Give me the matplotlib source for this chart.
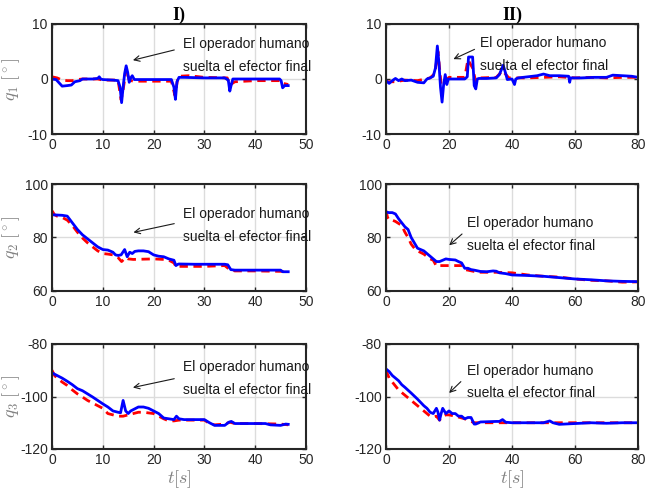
import numpy as np
import matplotlib
matplotlib.use('Agg')
import matplotlib.pyplot as plt

# --- data (time in s, angle in degrees) ---
# q1, experiment I
t_q1_I_ref = [0, 1, 2, 3, 4, 5, 6, 9, 10, 13, 13.6, 14, 14.6, 15.2, 16, 20, 23.5, 24.2, 24.7, 25, 27, 30,
              34.5, 35, 35.5, 36, 40, 45, 45.5, 46.5]
q1_I_ref = [0.4, 0.2, -0.2, -0.3, -0.3, -0.1, 0, 0, -0.2, -0.2, -3.8, -2, 1.8, -0.2, -0.4, -0.4, -0.4, -3, -0.2,
            0.5, 0.6, 0.3, 0.2, -1.2, -0.8, -0.5, -0.3, -0.3, -0.8, -1.0]
t_q1_I = [0, 0.8, 1.5, 2, 3, 3.8, 4.5, 5.5, 6, 8, 9, 9.3, 9.6, 10, 12, 13, 13.4, 13.7, 14.0, 14.3, 14.6, 14.9,
          15.2, 15.5, 15.8, 16.2, 17, 20, 23.5, 24.0, 24.3, 24.6, 25, 26, 30, 34, 34.7, 35.0, 35.3, 35.6, 36, 40,
          44.8, 45.1, 45.4, 45.8, 46.5]
q1_I = [0, -0.1, -0.8, -1.3, -1.2, -1.1, -0.5, -0.3, 0, 0, 0.1, 0.4, 0, -0.1, -0.2, -0.3, -1.5, -4.3, -1.5, 1,
        2.4, 1.2, -0.6, 0.2, 0.6, -0.1, -0.1, -0.1, -0.1, -1.5, -3.7, -0.5, 0.3, 0.3, 0.2, 0.2, -0.2, -2.2, -1, 0,
        0, 0, 0, -0.3, -1.6, -1.2, -1.2]

# q1, experiment II
t_q1_II_ref = [0, 3, 6, 10, 14, 15.5, 16.5, 17.5, 18.5, 20, 25, 26, 27.5, 28.5, 30, 35, 37, 39, 45, 50, 55,
               60, 65, 70, 75, 80]
q1_II_ref = [-0.5, -0.5, -0.2, -0.3, 0.2, 1, 5, -1, -0.5, 0.3, 0.3, 3.5, 2, -0.5, 0.2, 0.3, 1.5, 0.2, 0.2,
             0.3, 0.4, 0.2, 0.3, 0.2, 0.3, 0.3]
t_q1_II = [0, 1, 2, 3, 4, 5, 6, 8, 10, 12, 13, 14, 15, 15.7, 16.3, 16.8, 17.3, 17.8, 18.3, 18.8, 19.3, 19.8,
           20.5, 22, 25, 25.8, 26.2, 27.5, 28.0, 28.5, 29, 29.5, 32, 35, 36, 37.2, 38, 38.5, 40, 40.8, 41.2, 42,
           45, 48, 50, 52, 55, 58, 58.3, 58.6, 62, 66, 70, 72, 75, 78, 80]
q1_II = [-0.3, -0.8, -0.3, 0.1, -0.3, 0, -0.3, -0.2, -0.6, -0.7, 0, 0.2, 0.5, 2, 6, 3, -1.5, -4.2, -1, 0.8,
         -1, 0, 0, 0, 0, 0.4, 4, 4, -1.2, -1.8, 0, 0.1, 0.1, 0.2, 0.8, 2.5, 1, -0.1, 0, -1, 0, 0.2, 0.4, 0.6,
         0.9, 0.6, 0.6, 0.5, -0.6, 0.2, 0.2, 0.3, 0.3, 0.7, 0.6, 0.5, 0.3]

# q2, experiment I
t_q2_I_ref = [0, 0.5, 1, 2, 3, 4, 5, 6, 7, 8, 9, 10, 11, 12, 13, 13.7, 14.5, 15, 16, 20, 22, 23, 24, 24.5, 25,
              30, 34, 35, 36, 40, 46.5]
q2_I_ref = [90, 88.5, 88, 87.5, 86.5, 84.5, 82, 79.8, 78, 76.5, 75, 74, 73.8, 73.5, 72.5, 71, 72.5, 72, 71.8,
            72, 71.8, 71.5, 70.5, 68.8, 69.2, 69.2, 69.5, 68, 67.5, 67.5, 67.3]
t_q2_I = [0, 1, 2, 3, 4, 5, 6, 7, 8, 9, 10, 11, 12, 12.5, 13, 13.6, 14.3, 14.8, 15.3, 15.8, 16.3, 17, 18, 19,
          20, 21, 22, 23, 24, 24.4, 24.8, 25, 28, 30, 34, 34.6, 35.2, 36, 40, 45, 45.4, 46.5]
q2_I = [88.5, 88.4, 88.3, 88, 85.5, 83, 81, 79.5, 78, 76.5, 75.5, 75.3, 74.5, 73.5, 73.3, 73.5, 75.5, 72.8,
        74.5, 74, 74.8, 75, 75, 74.7, 73.5, 73, 72.8, 72, 71.5, 69.5, 70, 70.1, 70, 70, 70, 69.8, 68, 67.8,
        67.8, 67.8, 67.2, 67.2]

# q2, experiment II
t_q2_II_ref = [0, 0.5, 1, 2, 3, 5, 6, 7, 8, 9, 10, 12, 14, 15, 16, 17, 20, 24, 25, 26, 28, 30, 35, 40, 45, 50,
               55, 60, 65, 70, 75, 80]
q2_II_ref = [90, 87.5, 86.5, 86.5, 86, 84.5, 82, 80, 77.5, 76, 75, 73.8, 72, 71.5, 69.3, 69.5, 69.5, 69.5, 68,
             67.8, 67.3, 67, 67, 66.8, 66, 65.5, 65.2, 64.5, 64, 63.8, 63.3, 63.4]
t_q2_II = [0, 1, 2, 3, 4, 5, 6, 7, 8, 9, 10, 12, 13, 14, 15, 16, 17, 18, 19, 20, 22, 23, 24, 25, 26, 27, 28,
           30, 32, 34, 35, 36, 38, 40, 45, 50, 55, 60, 65, 70, 75, 80]
q2_II = [89.5, 89.3, 89.3, 88.8, 87, 85.5, 84, 83, 80, 78, 76, 75, 74, 73, 72, 71, 71, 71.5, 72, 71.8, 71.6,
         71, 70.5, 68.5, 68.5, 68, 67.8, 67.3, 67.2, 67.5, 67.4, 66.8, 66.5, 66, 65.8, 65.5, 65, 64.5, 64.2,
         63.8, 63.6, 63.5]

# q3, experiment I
t_q3_I_ref = [0, 0.5, 1, 2, 3, 4, 5, 6, 7, 8, 9, 10, 11, 12, 13, 14, 15, 16, 17, 18, 20, 21, 22, 23, 24, 25,
              27, 30, 31, 32, 34, 35, 36, 40, 45, 46.5]
q3_I_ref = [-90, -92, -93, -94.5, -95.8, -97.5, -99, -100.2, -101.5, -102.5, -103.5, -104.5, -106.5, -107,
            -107.5, -107.5, -107, -106.5, -106, -106, -106.5, -107.5, -108.5, -109.3, -109.3, -109, -109, -109,
            -110.3, -110.8, -110.5, -109.8, -110.3, -110.3, -110.5, -110.8]
t_q3_I = [0, 1, 2, 3, 4, 5, 6, 7, 8, 9, 10, 11, 12, 13, 13.5, 14, 14.5, 15, 15.5, 16, 17, 18, 19, 20, 21, 22,
          23, 24, 24.5, 25, 26, 30, 31, 32, 34, 34.8, 35.3, 36, 40, 42, 43, 45, 46, 46.5]
q3_I = [-91, -92, -93, -94.2, -95.5, -97, -97.8, -99, -100.2, -101.5, -102.8, -104, -105.5, -106, -106.2,
        -101.5, -105.5, -106.5, -105.5, -105, -104, -104, -104.5, -105.5, -106.5, -108.2, -108.5, -108.8,
        -107.5, -108.5, -108.8, -108.8, -110, -111, -111, -109.8, -109.5, -110.3, -110.3, -110.3, -110.8, -111,
        -110.5, -110.6]

# q3, experiment II
t_q3_II_ref = [0, 1, 2, 3, 4, 5, 6, 8, 10, 12, 14, 15, 16, 17, 18, 19, 20, 22, 25, 28, 30, 40, 60, 80]
q3_II_ref = [-90, -93, -94.5, -96, -97.5, -98.5, -99.5, -101.5, -103.5, -105.5, -107.5, -107.8, -107.5, -109,
             -107.5, -107, -107, -107.5, -108.5, -110, -110, -110, -110, -110]
t_q3_II = [0, 1, 2, 3, 4, 5, 6, 8, 10, 12, 13, 14, 15, 16, 16.5, 17, 17.5, 18, 18.5, 19, 20, 21, 22, 23, 24,
           25, 26, 27, 28, 28.5, 30, 35, 36, 37, 38, 40, 45, 50, 52, 53, 55, 60, 65, 70, 75, 80]
q3_II = [-89.5, -90.5, -92, -93, -94, -95.5, -96.5, -98.7, -101, -103.5, -104.5, -106, -106.5, -104.5, -106,
         -109, -106.5, -104.5, -105.5, -106.5, -105.5, -106.5, -106.5, -107.5, -107.5, -108.5, -108, -108,
         -110.5, -110.5, -109.7, -109.5, -109.5, -108.8, -109.8, -110, -110, -110, -109.3, -110, -110.6, -110.3,
         -110, -110.2, -110, -110]

note = "El operador humano\nsuelta el efector final"

plt.rcParams['font.family'] = ['Liberation Sans', 'DejaVu Sans']
plt.rcParams['mathtext.fontset'] = 'cm'
plt.rcParams['axes.unicode_minus'] = False

fig = plt.figure(figsize=(6.6, 5.04), dpi=100)

col_x = [52 / 660, 386 / 660]
col_w = [254 / 660, 252 / 660]
rows = [(134, 110), (291, 107), (449, 105)]   # bottom px, height px

panels = [
    [(t_q1_I, q1_I, t_q1_I_ref, q1_I_ref), (t_q1_II, q1_II, t_q1_II_ref, q1_II_ref)],
    [(t_q2_I, q2_I, t_q2_I_ref, q2_I_ref), (t_q2_II, q2_II, t_q2_II_ref, q2_II_ref)],
    [(t_q3_I, q3_I, t_q3_I_ref, q3_I_ref), (t_q3_II, q3_II, t_q3_II_ref, q3_II_ref)],
]
ylims = [(-10, 10), (60, 100), (-120, -80)]
yticks = [[-10, 0, 10], [60, 80, 100], [-120, -100, -80]]
ylabels = [r'$q_1\ [^\circ]$', r'$q_2\ [^\circ]$', r'$q_3\ [^\circ]$']
xlims = [(0, 50), (0, 80)]
xticks = [[0, 10, 20, 30, 40, 50], [0, 20, 40, 60, 80]]

# annotation: text left x, text centre y (between the two lines), arrow head, arrow tail
notes = [
    [((25.8, 4.3), (15.4, 3.3), (24.6, 5.4)), ((29.8, 4.5), (20.6, 3.4), (28.9, 5.6))],
    [((25.8, 84.5), (15.5, 81.7), (24.6, 85.4)), ((25.7, 81.1), (19.4, 76.4), (24.8, 82.0))],
    [((25.8, -93.2), (15.4, -96.8), (24.6, -93.0)), ((25.7, -94.5), (19.4, -99.4), (24.4, -93.6))],
]

for r in range(3):
    for c in range(2):
        bot, h = rows[r]
        ax = fig.add_axes([col_x[c], 1 - bot / 504, col_w[c], h / 504])
        t, q, tr, qr = panels[r][c]
        ax.plot(tr, qr, '--', color='#ff0000', lw=2.0, dashes=(3, 2))
        ax.plot(t, q, '-', color='#0000ff', lw=2.0)
        ax.set_xlim(*xlims[c])
        ax.set_ylim(*ylims[r])
        ax.set_xticks(xticks[c])
        ax.set_yticks(yticks[r])
        ax.grid(True, color='#dcdcdc', lw=1.0)
        ax.tick_params(direction='in', length=3, width=1, top=True, right=True,
                       labelsize=10, colors='#262626', pad=3)
        for s in ax.spines.values():
            s.set_linewidth(1.5)
            s.set_color('#262626')
        (tx, ty), head, tail = notes[r][c]
        ax.annotate('', xy=head, xytext=tail,
                    arrowprops=dict(arrowstyle='->', color='#1a1a1a', lw=0.8))
        ax.text(tx, ty, note, fontsize=10, ha='left', va='center', color='#1a1a1a',
                linespacing=1.8)
        if c == 0:
            ax.set_ylabel(ylabels[r], fontsize=13, color='#808080')
            ax.yaxis.set_label_coords(-0.12, 0.5)
        if r == 0:
            ax.set_title(['I)', 'II)'][c], fontsize=13, fontweight='bold',
                         family='Liberation Serif', pad=3)
        if r == 2:
            ax.set_xlabel(r'$t[s]$', fontsize=13, color='#808080', labelpad=1)

fig.savefig('out.png', dpi=100)
